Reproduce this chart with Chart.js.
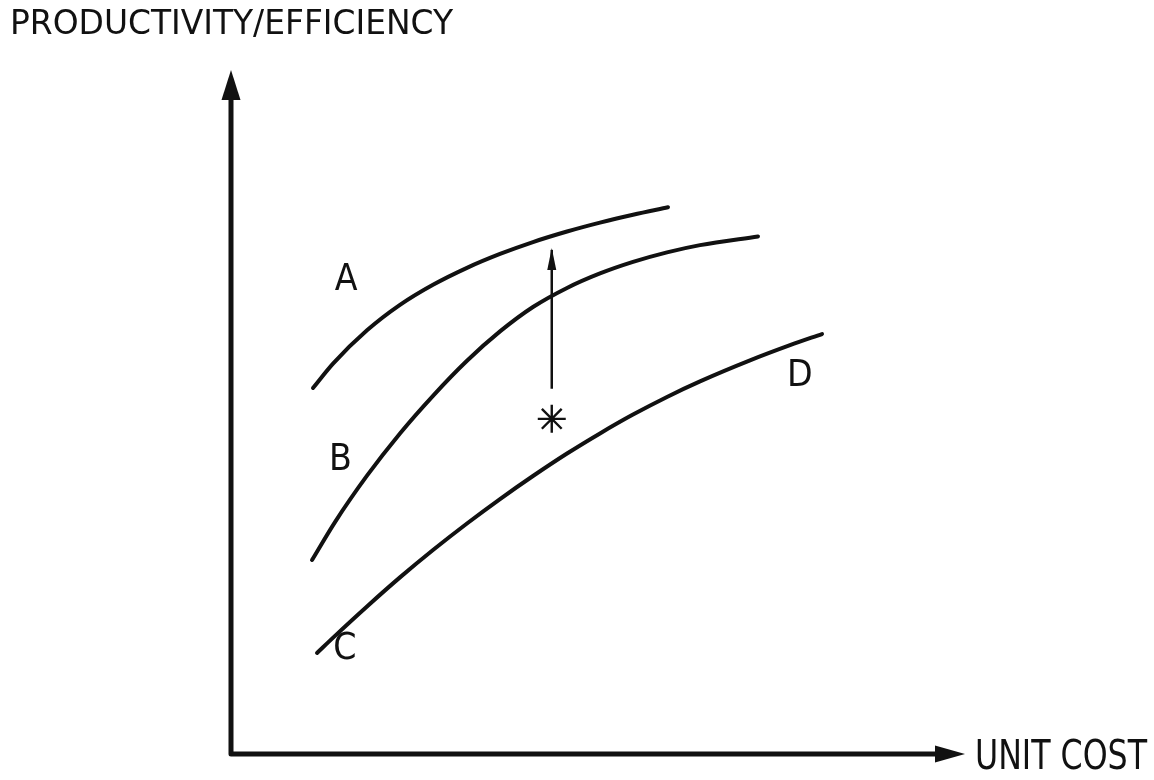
<!DOCTYPE html>
<html>
<head>
<meta charset="utf-8">
<script src="https://cdn.jsdelivr.net/npm/chart.js@4/dist/chart.umd.min.js"></script>
<style>
  html, body { margin: 0; padding: 0; background: #ffffff; }
  #wrap { width: 1154px; height: 780px; }
</style>
</head>
<body>
<div id="wrap"><canvas id="c" width="1154" height="780"></canvas></div>
<script>
// ---- data (abstract units: 0..100 on both axes) ----
const curveAX = [11.17, 13.90, 18.53, 23.02, 27.52, 32.15, 36.65, 41.14, 45.78, 50.27, 54.77, 59.54];
const curveAY = [53.51, 57.08, 61.94, 65.66, 68.60, 71.08, 73.11, 74.85, 76.39, 77.69, 78.84, 79.93];

const curveBX = [11.04, 14.17, 18.53, 23.02, 27.52, 32.15, 36.65, 41.14, 45.78, 50.27, 54.77, 59.40, 63.90, 71.80];
const curveBY = [28.36, 33.91, 40.69, 46.87, 52.37, 57.49, 61.78, 65.35, 68.14, 70.26, 71.95, 73.34, 74.40, 75.67];

const curveCX = [11.72, 14.17, 18.53, 23.02, 27.52, 32.15, 36.65, 41.14, 45.78, 50.27, 54.77, 59.40, 63.90, 70.71, 76.16, 80.52];
const curveCY = [14.77, 17.27, 21.57, 25.82, 29.82, 33.70, 37.27, 40.64, 43.93, 46.87, 49.62, 52.20, 54.47, 57.54, 59.76, 61.40];

const moveArrowX = [43.7, 43.7];
const moveArrowY = [53.4, 73.7];

const starX = [43.7];
const starY = [49.0];

const curveLabels = ['A', 'B', 'C', 'D'];
const curveLabelX = [15.7, 14.9, 15.5, 77.5];
const curveLabelY = [69.4, 43.0, 15.5, 55.3];

const yAxisTitle = 'PRODUCTIVITY/EFFICIENCY';
const xAxisTitle = 'UNIT COST';

// ---- helpers ----
function pts(xs, ys) { return xs.map((x, i) => ({ x: x, y: ys[i] })); }
const INK = '#111111';
const FONT = '"DejaVu Sans Condensed", "DejaVu Sans", sans-serif';

function drawFitText(ctx, text, x, baseline, size, targetW) {
  ctx.save();
  ctx.font = size + 'px ' + FONT;
  ctx.textBaseline = 'alphabetic';
  ctx.textAlign = 'left';
  const w = ctx.measureText(text).width;
  ctx.translate(x, baseline);
  ctx.scale(targetW / w, 1);
  ctx.fillStyle = INK;
  ctx.fillText(text, 0, 0);
  ctx.restore();
}

const diagramPlugin = {
  id: 'diagram',
  beforeDatasetsDraw(chart) {
    const ctx = chart.ctx;
    const a = chart.chartArea;
    ctx.save();
    ctx.strokeStyle = INK;
    ctx.fillStyle = INK;
    ctx.lineWidth = 5;
    ctx.lineJoin = 'round';
    // axes
    ctx.beginPath();
    ctx.moveTo(a.left, a.top + 26);
    ctx.lineTo(a.left, a.bottom);
    ctx.lineTo(a.right - 26, a.bottom);
    ctx.stroke();
    // y arrow head
    ctx.beginPath();
    ctx.moveTo(a.left, a.top);
    ctx.lineTo(a.left - 9.5, a.top + 30);
    ctx.lineTo(a.left + 9.5, a.top + 30);
    ctx.closePath();
    ctx.fill();
    // x arrow head
    ctx.beginPath();
    ctx.moveTo(a.right, a.bottom);
    ctx.lineTo(a.right - 30, a.bottom - 8.5);
    ctx.lineTo(a.right - 30, a.bottom + 8.5);
    ctx.closePath();
    ctx.fill();
    ctx.restore();
  },
  afterDatasetsDraw(chart) {
    const ctx = chart.ctx;
    const a = chart.chartArea;
    const xs = chart.scales.x, ys = chart.scales.y;
    ctx.save();
    // arrow head of the vertical move arrow
    const meta = chart.getDatasetMeta(3);
    const tip = meta.data[1];
    ctx.fillStyle = INK;
    ctx.beginPath();
    ctx.moveTo(tip.x, tip.y - 2);
    ctx.lineTo(tip.x - 4.5, tip.y + 20);
    ctx.lineTo(tip.x + 4.5, tip.y + 20);
    ctx.closePath();
    ctx.fill();
    // curve labels
    ctx.font = '37px ' + FONT;
    ctx.textAlign = 'center';
    ctx.textBaseline = 'middle';
    ctx.fillStyle = INK;
    curveLabels.forEach((t, i) => {
      ctx.fillText(t, xs.getPixelForValue(curveLabelX[i]), ys.getPixelForValue(curveLabelY[i]) + 1);
    });
    ctx.restore();
    // axis titles
    drawFitText(ctx, yAxisTitle, 10, 34, 33, 443);
    drawFitText(ctx, xAxisTitle, a.right + 10, a.bottom + 15, 40, 172);
  }
};

const lineStyle = {
  borderColor: INK,
  borderWidth: 4,
  pointRadius: 0,
  borderCapStyle: 'round',
  cubicInterpolationMode: 'monotone',
  fill: false
};

new Chart(document.getElementById('c'), {
  type: 'line',
  data: {
    datasets: [
      Object.assign({ label: 'A', data: pts(curveAX, curveAY) }, lineStyle),
      Object.assign({ label: 'B', data: pts(curveBX, curveBY) }, lineStyle),
      Object.assign({ label: 'C', data: pts(curveCX, curveCY) }, lineStyle),
      { label: 'move', data: pts(moveArrowX, moveArrowY), borderColor: INK, borderWidth: 2.5,
        pointRadius: 0, tension: 0, fill: false },
      { type: 'scatter', label: 'position', data: pts(starX, starY), pointStyle: 'star',
        pointRadius: 14, borderColor: INK, borderWidth: 2.4, backgroundColor: INK, showLine: false }
    ]
  },
  options: {
    responsive: false,
    animation: false,
    events: [],
    layout: { padding: { left: 231, top: 70, right: 189, bottom: 26 } },
    plugins: { legend: { display: false }, tooltip: { enabled: false }, title: { display: false } },
    scales: {
      x: { type: 'linear', min: 0, max: 100, display: false },
      y: { type: 'linear', min: 0, max: 100, display: false }
    }
  },
  plugins: [diagramPlugin]
});
</script>
</body>
</html>
